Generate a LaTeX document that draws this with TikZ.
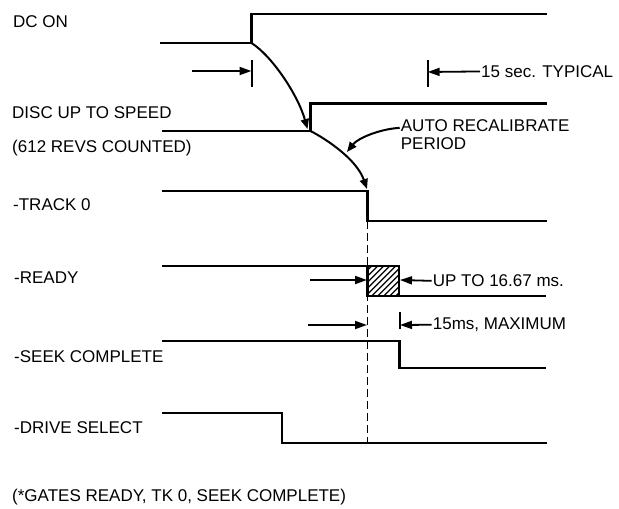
\documentclass[tikz,border=0pt]{standalone}
\usepackage{fontspec}
\setmainfont{Liberation Sans}
\usetikzlibrary{arrows.meta}
\begin{document}
\begin{tikzpicture}[x=1pt,y=-1pt,
  sig/.style={line width=2.3pt, line join=miter},
  lbl/.style={anchor=base west, inner sep=0pt, font=\fontsize{17}{20}\selectfont},
  dimarrow/.style={line width=1.8pt, -{Triangle[length=12pt,width=8pt]}},
  curvearrow/.style={line width=2pt, -{Triangle[length=10pt,width=8pt]}},
  tickline/.style={line width=2pt},
  guide/.style={line width=1.6pt, dash pattern=on 8pt off 4pt}]
\useasboundingbox (0,0) rectangle (619,509);

% labels
\node[lbl] (dcon) at (13,27.3) {DC ON};
\node[lbl] (disc) at (12,118.3) {DISC UP TO SPEED};
\node[lbl] (revs) at (12,152) {(612 REVS COUNTED)};
\node[lbl] (trk) at (13,210.7) {-TRACK 0};
\node[lbl] (rdy) at (14,283.3) {-READY};
\node[lbl] (seek) at (14,362.3) {-SEEK COMPLETE};
\node[lbl] (drv) at (14,433.3) {-DRIVE SELECT};
\node[lbl] (gates) at (12,501.5) {(*GATES READY, TK 0, SEEK COMPLETE)};
\node[lbl] (typ) at (481,77.3) {15 sec. TYPICAL};
\node[lbl] (auto1) at (400.7,131.7) {AUTO RECALIBRATE};
\node[lbl] (auto2) at (400.7,149) {PERIOD};
\node[lbl] (upto) at (432.7,286.7) {UP TO 16.67 ms.};
\node[lbl] (maxm) at (432.7,329.5) {15ms, MAXIMUM};

% edge coordinates
\coordinate (dcA) at (251.5,43);
\coordinate (discA) at (310.5,131);
\coordinate (trkA) at (367.5,191);
\coordinate (trkB) at (367.5,221);
\coordinate (drvB) at (367.5,442.7);

% signals
\draw[sig] (160,43) -- (dcA) -- (251.5,14) -- (547,14);
\draw[sig] (162,131) -- (discA) -- (310.5,103.5) -- (547,103.5);
\draw[sig] (162,191) -- (trkA) -- (trkB) -- (547,221);
\draw[sig] (162,265.7) -- (399.3,265.7) -- (399.3,295.7) -- (546,295.7);
\draw[sig] (162,340.7) -- (399.5,340.7) -- (399.5,368.3) -- (546,368.3);
\draw[sig] (162,412.7) -- (281.7,412.7) -- (281.7,442.7) -- (547,442.7);

% hatched box
\begin{scope}
  \clip (367.5,265.7) rectangle (399.3,295.7);
  \foreach \k in {0,...,11} {
    \draw[line width=1.2pt] (330+6*\k,295.7) -- (360+6*\k,265.7);
  }
\end{scope}
\draw[sig] (367.5,265.7) rectangle (399.3,295.7);

% dashed guide
\draw[guide] (trkB) -- (drvB);

% curved arrows
\draw[curvearrow] (dcA) .. controls (272,56) and (298,95) .. (307.5,129);
\draw[curvearrow] (discA) .. controls (328,140) and (357,160) .. (367,189);
\draw[curvearrow] ([xshift=-1pt,yshift=-2pt]auto1.west) .. controls (380,129) and (358,138) .. (347,152);

% 15 sec typical
\coordinate (tickA) at (251.5,71);
\coordinate (tickB) at (427.7,72);
\draw[tickline] (251.5,60) -- (251.5,87);
\draw[tickline] (427.7,60) -- (427.7,87);
\draw[dimarrow] (192,71) -- (tickA);
\draw[dimarrow] ([xshift=-1pt]typ.west) -- (tickB);

% ready window
\draw[dimarrow] (310,280) -- (367,280);
\draw[dimarrow] ([xshift=-1pt]upto.west) -- (400,280);

% 15ms maximum
\draw[tickline] (399.5,312) -- (399.5,329);
\draw[dimarrow] (308,325) -- (367,325);
\draw[dimarrow] ([xshift=-1pt]maxm.west) -- (400,325);
\end{tikzpicture}
\end{document}
